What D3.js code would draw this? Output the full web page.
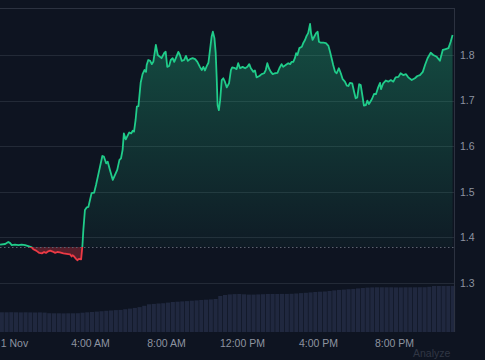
<!DOCTYPE html>
<html><head><meta charset="utf-8">
<script src="https://cdn.jsdelivr.net/npm/d3@7"></script>
<style>html,body{margin:0;padding:0;background:#0e1421;overflow:hidden}</style>
</head><body><svg id="c" width="485" height="360"></svg>
<script>
// ---- data ----
const sessionDate = "2024-11-01T00:00:00Z";
const priceMinutes = [-44,-28,-18,-13,-7,3,14,24,35,45,56,61,70,80,88,95,101,108,114,122,130,137,145,156,166,177,182,185,190,196,200,205,212,216,219,224,230,235,240,245,253,259,266,274,279,284,291,296,303,312,319,326,333,338,343,347,353,358,364,370,375,379,384,388,393,400,406,412,417,419,424,430,435,440,448,454,461,466,475,479,484,490,495,501,506,512,519,524,530,537,543,549,556,564,572,579,587,593,598,603,609,614,619,624,628,633,637,640,643,647,651,656,661,666,672,679,685,689,698,703,708,714,722,730,737,743,748,756,761,766,775,782,790,795,800,805,811,817,824,832,838,845,850,858,866,872,877,882,887,891,895,901,909,914,919,924,929,935,938,943,948,954,959,963,969,977,985,993,998,1003,1008,1014,1019,1026,1032,1038,1045,1051,1056,1061,1068,1074,1079,1084,1090,1095,1100,1105,1111,1116,1121,1130,1137,1143,1150,1156,1159,1166,1174,1182,1190,1198,1205,1214,1221,1229,1238,1245,1256,1266,1274,1282,1291,1298,1306,1316,1324,1335,1345,1354,1361,1372,1379,1385];
const prices = [1.384,1.3855,1.390,1.388,1.383,1.384,1.383,1.384,1.383,1.381,1.378,1.374,1.371,1.366,1.365,1.368,1.366,1.3695,1.371,1.369,1.366,1.368,1.367,1.365,1.364,1.363,1.358,1.361,1.358,1.353,1.350,1.353,1.352,1.381,1.416,1.460,1.466,1.467,1.482,1.497,1.498,1.515,1.537,1.5625,1.5785,1.577,1.5625,1.566,1.548,1.526,1.537,1.548,1.570,1.5735,1.592,1.628,1.615,1.622,1.630,1.628,1.634,1.632,1.6575,1.687,1.688,1.739,1.758,1.767,1.763,1.778,1.789,1.787,1.780,1.785,1.822,1.800,1.796,1.793,1.805,1.807,1.774,1.776,1.789,1.793,1.785,1.795,1.807,1.800,1.787,1.789,1.798,1.787,1.791,1.793,1.791,1.785,1.774,1.767,1.774,1.766,1.776,1.783,1.811,1.840,1.851,1.837,1.804,1.752,1.690,1.679,1.701,1.745,1.749,1.7415,1.729,1.738,1.767,1.773,1.771,1.769,1.782,1.771,1.774,1.771,1.774,1.780,1.771,1.763,1.766,1.751,1.754,1.758,1.760,1.767,1.782,1.771,1.763,1.758,1.760,1.761,1.771,1.780,1.774,1.778,1.782,1.780,1.785,1.785,1.793,1.804,1.800,1.815,1.818,1.827,1.833,1.842,1.848,1.868,1.848,1.833,1.840,1.848,1.851,1.829,1.827,1.827,1.826,1.820,1.807,1.793,1.778,1.763,1.760,1.771,1.760,1.747,1.7415,1.733,1.732,1.739,1.738,1.7195,1.705,1.707,1.736,1.734,1.712,1.689,1.690,1.700,1.6925,1.703,1.7145,1.714,1.729,1.739,1.725,1.738,1.744,1.7415,1.745,1.7415,1.751,1.752,1.760,1.756,1.758,1.751,1.745,1.749,1.754,1.756,1.763,1.778,1.793,1.805,1.800,1.796,1.7875,1.811,1.8125,1.815,1.829,1.844];
const baselinePrice = 1.379;
const volumeStartMinute = -45;
const volumeStepMinutes = 15;
const volumes = [197,197,198,197,196,197,196,195,196,194,188,187,187,186,187,187,188,193,197,200,204,208,212,215,219,221,228,234,241,249,262,277,281,285,288,294,300,303,306,309,313,316,320,323,326,330,360,370,376,379,380,377,374,374,376,378,380,380,380,381,381,382,385,389,392,396,400,403,405,410,416,421,424,428,431,436,440,444,446,447,447,447,447,446,446,447,447,447,448,448,452,460,460,460,460,461];
const priceTicks = [1.3,1.4,1.5,1.6,1.7,1.8];
const timeTickHours = [0,4,8,12,16,20];
const domainMinutes = [-44.2, 1389.5];
const watermark = "Analyze";

// ---- chart ----
const W = 485, H = 360;
const plot = {left: 0, right: 454, top: 8, bottom: 332};
const base = new Date(sessionDate).getTime();
const toDate = m => new Date(base + m * 60000);

const x = d3.scaleUtc().domain(domainMinutes.map(toDate)).range([plot.left, plot.right]);
const y = d3.scaleLinear().domain([1.3, 1.8]).range([283, 55]);
const yVol = d3.scaleLinear().domain([0, 500]).range([plot.bottom, plot.bottom - 50]);

const data = priceMinutes.map((m, i) => ({t: toDate(m), v: prices[i]}));
const volData = volumes.map((v, i) => ({t: toDate(volumeStartMinute + i * volumeStepMinutes), v}));

const svg = d3.select("#c");
const FONT = "'Liberation Sans', Arial, sans-serif";
svg.append("rect").attr("width", W).attr("height", H).attr("fill", "#0e1421");

const defs = svg.append("defs");
const yBase = y(baselinePrice);
defs.append("clipPath").attr("id", "above").append("rect")
  .attr("x", plot.left).attr("y", plot.top).attr("width", plot.right - plot.left).attr("height", yBase - plot.top);
defs.append("clipPath").attr("id", "below").append("rect")
  .attr("x", plot.left).attr("y", yBase).attr("width", plot.right - plot.left).attr("height", plot.bottom - yBase);

const gGreen = defs.append("linearGradient").attr("id", "gg").attr("gradientUnits", "userSpaceOnUse")
  .attr("x1", 0).attr("x2", 0).attr("y1", y(d3.max(prices))).attr("y2", yBase);
gGreen.append("stop").attr("offset", 0).attr("stop-color", "#22c98a").attr("stop-opacity", 0.32);
gGreen.append("stop").attr("offset", 1).attr("stop-color", "#22c98a").attr("stop-opacity", 0.04);

// gridlines
svg.append("g").selectAll("line").data(priceTicks).join("line")
  .attr("x1", plot.left).attr("x2", plot.right)
  .attr("y1", d => Math.round(y(d)) + 0.5).attr("y2", d => Math.round(y(d)) + 0.5)
  .attr("stroke", "#232a37").attr("stroke-width", 1);

// volume bars
const step = x(toDate(volumeStepMinutes)) - x(toDate(0));
svg.append("g").selectAll("rect").data(volData).join("rect")
  .attr("x", d => x(d.t)).attr("width", step - 0.6)
  .attr("y", d => yVol(d.v)).attr("height", d => plot.bottom - yVol(d.v))
  .attr("fill", "#20283f");

// areas
const area = d3.area().x(d => x(d.t)).y0(yBase).y1(d => y(d.v));
svg.append("path").datum(data).attr("d", area).attr("fill", "url(#gg)").attr("clip-path", "url(#above)");
svg.append("path").datum(data).attr("d", area).attr("fill", "#e8343f").attr("fill-opacity", 0.33).attr("clip-path", "url(#below)");

// baseline
svg.append("line").attr("x1", plot.left).attr("x2", plot.right).attr("y1", Math.round(yBase) + 0.5).attr("y2", Math.round(yBase) + 0.5)
  .attr("stroke", "#5c6270").attr("stroke-width", 1).attr("stroke-dasharray", "1.5,2.5");

// lines
const line = d3.line().x(d => x(d.t)).y(d => y(d.v));
svg.append("path").datum(data).attr("d", line).attr("fill", "none").attr("stroke", "#20cc8a")
  .attr("stroke-width", 1.8).attr("stroke-linejoin", "round").attr("clip-path", "url(#above)");
svg.append("path").datum(data).attr("d", line).attr("fill", "none").attr("stroke", "#ec3a45")
  .attr("stroke-width", 1.8).attr("stroke-linejoin", "round").attr("clip-path", "url(#below)");

// borders
svg.append("line").attr("x1", plot.left).attr("x2", plot.right + 0.5).attr("y1", plot.top + 0.5).attr("y2", plot.top + 0.5)
  .attr("stroke", "#2c3240");
svg.append("line").attr("x1", plot.right + 0.5).attr("x2", plot.right + 0.5).attr("y1", plot.top).attr("y2", plot.bottom)
  .attr("stroke", "#2c3240");

// y axis labels (right)
const yAxis = d3.axisRight(y).tickValues(priceTicks).tickFormat(d3.format(".1f")).tickSize(0).tickPadding(0);
const gy = svg.append("g").attr("transform", `translate(${plot.right + 6},0)`).call(yAxis);
gy.select(".domain").remove();
gy.selectAll("text").attr("fill", "#8d93a0").attr("font-size", 10.5).attr("font-family", FONT);

// x axis labels
const tickDates = timeTickHours.map(h => toDate(h * 60));
const fmtDay = d3.utcFormat("%-d %b"), fmtHour = d3.utcFormat("%-I:%M %p");
const xAxis = d3.axisBottom(x).tickValues(tickDates)
  .tickFormat(d => d.getUTCHours() === 0 ? fmtDay(d) : fmtHour(d)).tickSize(0).tickPadding(0);
const gx = svg.append("g").attr("transform", `translate(0,${plot.bottom + 8})`).call(xAxis);
gx.select(".domain").remove();
gx.selectAll("text").attr("fill", "#8d93a0").attr("font-size", 10.5).attr("font-family", FONT);

// watermark
svg.append("text").attr("x", 413).attr("y", 357.3).text(watermark)
  .attr("fill", "#303644").attr("font-size", 10.5).attr("font-family", FONT);
</script></body></html>
